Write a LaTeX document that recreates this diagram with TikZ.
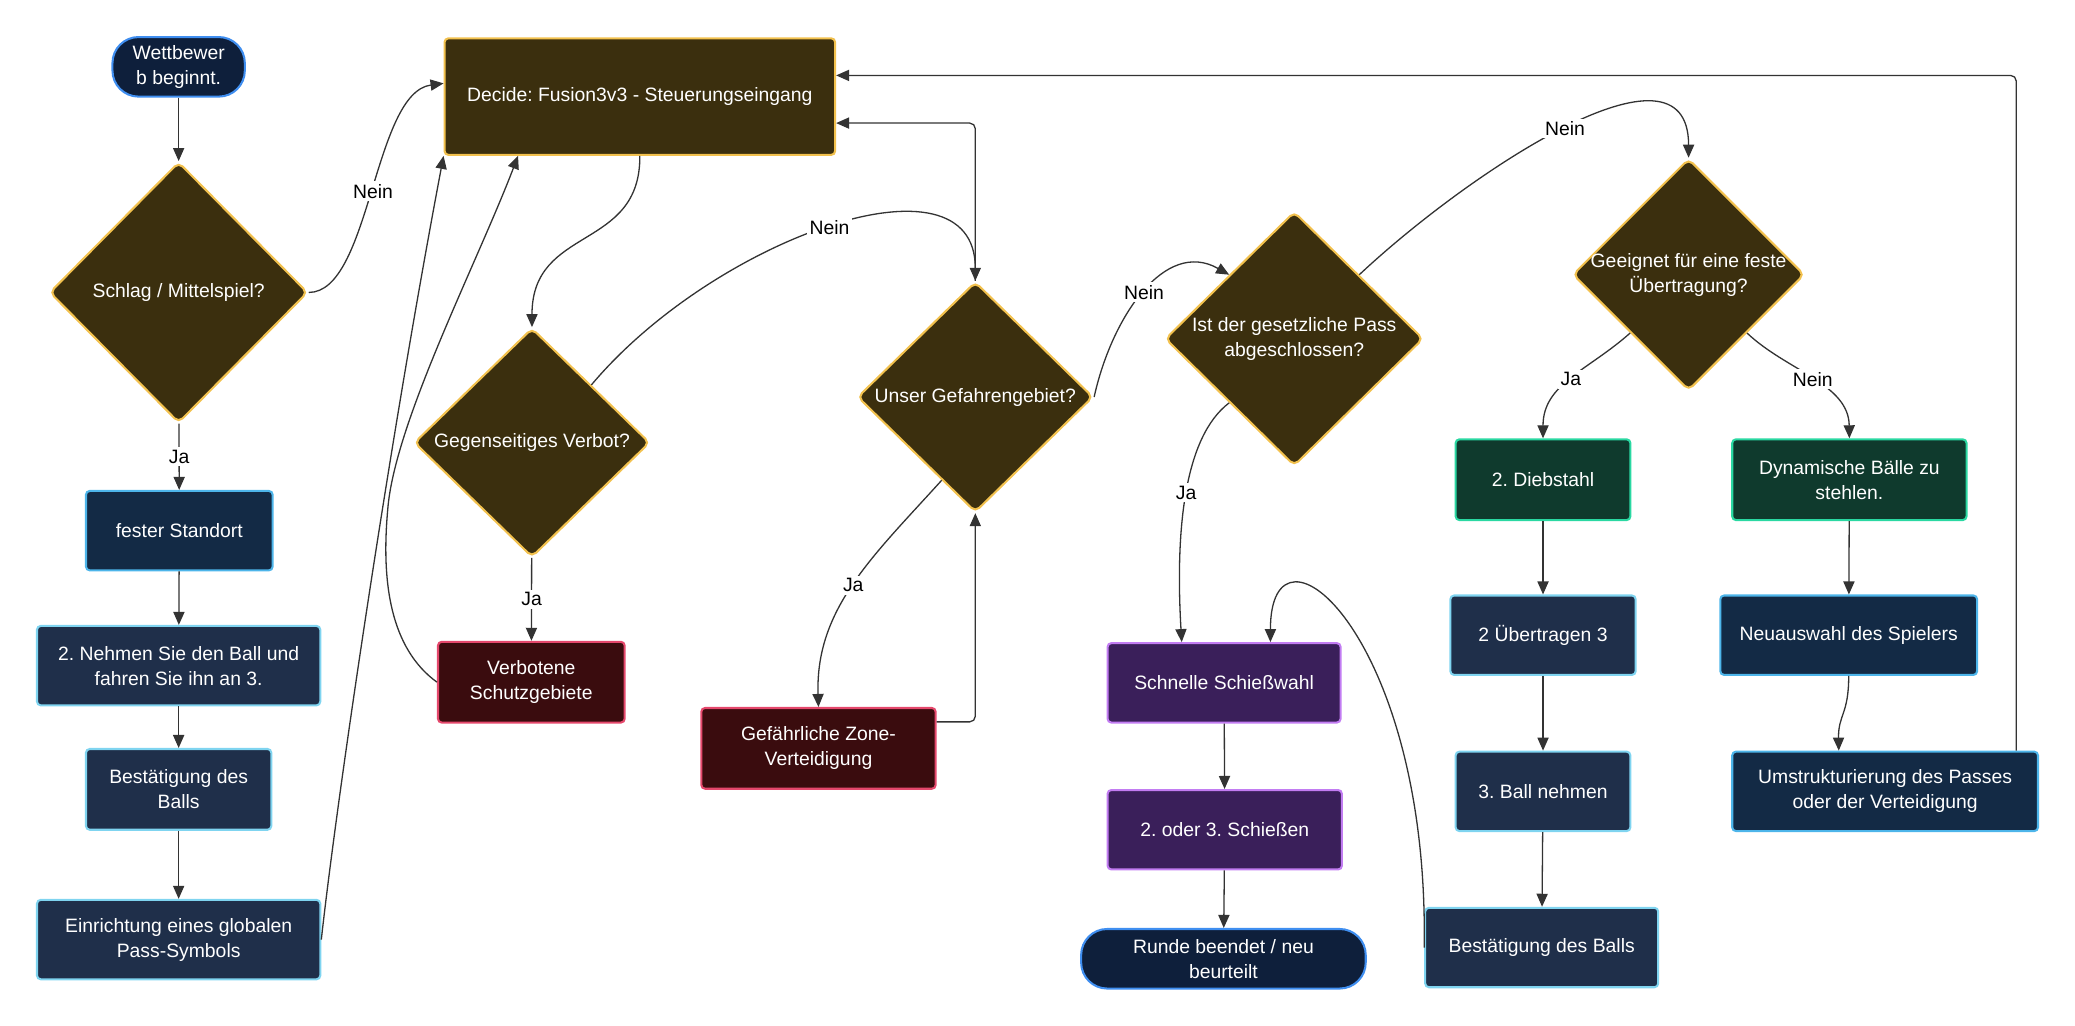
\documentclass[tikz,border=0pt]{standalone}
\usepackage{fontspec}
\setmainfont{Liberation Sans}
\usepackage{xcolor}
\usetikzlibrary{arrows.meta, shapes.geometric}
\definecolor{edgegray}{HTML}{333333}
\definecolor{qfill}{HTML}{3B2F0E}
\definecolor{qline}{HTML}{F2C14E}
\definecolor{tfill}{HTML}{0E1F3B}
\definecolor{tline}{HTML}{3F8EF0}
\definecolor{navyfill}{HTML}{132A45}
\definecolor{navyline}{HTML}{4DB5EA}
\definecolor{slatefill}{HTML}{1F2F4A}
\definecolor{slateline}{HTML}{7FD4F0}
\definecolor{winefill}{HTML}{3A0C0E}
\definecolor{wineline}{HTML}{E5486C}
\definecolor{plumfill}{HTML}{3A1F5A}
\definecolor{plumline}{HTML}{C27CF2}
\definecolor{mossfill}{HTML}{0F3A2D}
\definecolor{mossline}{HTML}{2AD8A2}
\tikzset{
  txt/.style={font=\fontsize{10.4}{13.5}\selectfont\frenchspacing},
  box/.style={rectangle, draw, txt, line width=1.1pt, rounded corners=2pt, align=center,
              text=white, inner sep=2pt, minimum height=1.5cm},
  term/.style={box, rounded corners=14pt, draw=tline, fill=tfill, minimum height=1.125cm},
  dec/.style={box, draw=qline, fill=qfill},
  qst/.style={diamond, draw=qline, fill=qfill, txt, line width=1.1pt, rounded corners=3pt,
              align=center, text=white, inner sep=-3pt},
  navy/.style={box, draw=navyline, fill=navyfill},
  slate/.style={box, draw=slateline, fill=slatefill},
  wine/.style={box, draw=wineline, fill=winefill},
  plum/.style={box, draw=plumline, fill=plumfill},
  moss/.style={box, draw=mossline, fill=mossfill},
  arr/.style={-{Triangle[length=7pt, width=6pt]}, line width=0.7pt, draw=edgegray},
  lbl/.style={txt, fill=white, text=black, inner sep=1.5pt},
}
\begin{document}
\begin{tikzpicture}[x=0.025cm, y=-0.025cm]
  \useasboundingbox (0,0) rectangle (1568,775);
  % left column
  \node[term, minimum width=2.5cm] (start) at (135,50.5) {Wettbewer\\b beginnt.};
  \node[qst, minimum width=4.875cm, minimum height=4.925cm] (schlag) at (135,221) {Schlag / Mittelspiel?};
  \node[navy, minimum width=3.525cm] (fester) at (135.5,401) {fester Standort};
  \node[slate, minimum width=5.35cm] (nehmen) at (135,503) {2. Nehmen Sie den Ball und\\fahren Sie ihn an 3.};
  \node[slate, minimum width=3.5cm, minimum height=1.525cm] (bestA) at (135,596.5) {Bestätigung des\\Balls};
  \node[slate, minimum width=5.35cm] (einr) at (135,710) {Einrichtung eines globalen\\Pass-Symbols};
  % decision row
  \node[dec, minimum width=7.375cm, minimum height=2.2cm] (decide) at (483.5,73) {Decide: Fusion3v3 - Steuerungseingang};
  \node[qst, minimum width=4.45cm, minimum height=4.325cm] (gv) at (402,334.5) {Gegenseitiges Verbot?};
  \node[wine, minimum width=3.525cm, minimum height=1.525cm] (verb) at (401.5,515.5) {Verbotene\\Schutzgebiete};
  \node[qst, minimum width=4.45cm, minimum height=4.35cm] (uns) at (737,300) {Unser Gefahrengebiet?};
  \node[wine, minimum width=4.425cm, minimum height=1.525cm] (gef) at (618.5,565.5) {Gefährliche Zone-\\Verteidigung};
  \node[qst, minimum width=4.875cm, minimum height=4.8cm] (ist) at (978,256) {Ist der gesetzliche Pass\\abgeschlossen?};
  \node[plum, minimum width=4.4cm] (schnell) at (925,516) {Schnelle Schießwahl};
  \node[plum, minimum width=4.425cm] (schuss) at (925.5,627) {2. oder 3. Schießen};
  \node[term, minimum width=5.375cm] (runde) at (924.5,724.5) {Runde beendet / neu\\beurteilt};
  % right columns
  \node[qst, minimum width=4.375cm, minimum height=4.375cm] (gee) at (1276,207.5) {Geeignet für eine feste\\Übertragung?};
  \node[moss, minimum width=3.3cm, minimum height=1.525cm] (dieb) at (1166,362.5) {2. Diebstahl};
  \node[moss, minimum width=4.425cm, minimum height=1.525cm] (dyn) at (1397.5,362.5) {Dynamische Bälle zu\\stehlen.};
  \node[slate, minimum width=3.5cm] (ueb) at (1166,480) {2 Übertragen 3};
  \node[navy, minimum width=4.85cm] (neu) at (1397,480) {Neuauswahl des Spielers};
  \node[slate, minimum width=3.3cm] (ball) at (1166,598) {3. Ball nehmen};
  \node[navy, minimum width=5.775cm] (umst) at (1424.5,598) {Umstrukturierung des Passes\\oder der Verteidigung};
  \node[slate, minimum width=4.4cm] (bestB) at (1165,716) {Bestätigung des Balls};

  % straight links
  \draw[arr] (start) -- (schlag);
  \draw[arr] (schlag) -- node[lbl] {Ja} (fester);
  \draw[arr] (fester) -- (nehmen);
  \draw[arr] (nehmen) -- (bestA);
  \draw[arr] (bestA) -- (einr);
  \draw[arr] (gv) -- node[lbl] {Ja} (verb);
  \draw[arr] (schnell) -- (schuss);
  \draw[arr] (schuss) -- (runde);
  \draw[arr] (dieb) -- (ueb);
  \draw[arr] (ueb) -- (ball);
  \draw[arr] (ball) -- (bestB);
  \draw[arr] (dyn) -- (neu);

  % curved links
  \draw[arr] (schlag.east) .. controls (280,221) and (282,70) .. node[lbl] {Nein} ([yshift=0.25cm]decide.west);
  \draw[arr] (einr.east) .. controls (255,600) and (295,330) .. (decide.south west);
  \draw[arr] (verb.west) .. controls (295,490) and (288,440) .. (293,385)
    .. controls (298,320) and (360,200) .. ([xshift=-2.3cm]decide.south);
  \draw[arr] (decide.south) .. controls (484,190) and (402,170) .. (gv.north);
  \draw[arr] (gv.north east) .. controls (540,180) and (737,110) .. node[lbl] {Nein} (uns.north);
  \draw[arr, rounded corners=3pt] (uns.north) |- ([yshift=-0.5cm]decide.east);
  \draw[arr, rounded corners=3pt] ([yshift=0.5cm]gef.east) -| (uns.south);
  \draw[arr] (uns.248) .. controls (660,420) and (616,460) .. node[lbl] {Ja} (gef.north);
  \draw[arr] (uns.east) .. controls (840,240) and (880,180) .. node[lbl] {Nein} (ist.north west);
  \draw[arr] (ist.north east) .. controls (1110,130) and (1276,20) .. node[lbl] {Nein} (gee.north);
  \draw[arr] (ist.south west) .. controls (895,330) and (888,400) .. node[lbl] {Ja} ([xshift=-0.8cm]schnell.north);
  \draw[arr] (bestB.west) .. controls (1080,480) and (960,380) .. ([xshift=0.875cm]schnell.north);
  \draw[arr] (gee.south west) .. controls (1200,280) and (1166,290) .. node[lbl] {Ja} (dieb.north);
  \draw[arr] (gee.south east) .. controls (1350,280) and (1397,290) .. node[lbl] {Nein} (dyn.north);
  \draw[arr] (neu.south) .. controls (1397,540) and (1389,540) .. ([xshift=-0.875cm]umst.north);
  \draw[arr, rounded corners=3pt] ([xshift=-0.43cm]umst.north east) |- ([yshift=0.4cm]decide.east);
\end{tikzpicture}
\end{document}
